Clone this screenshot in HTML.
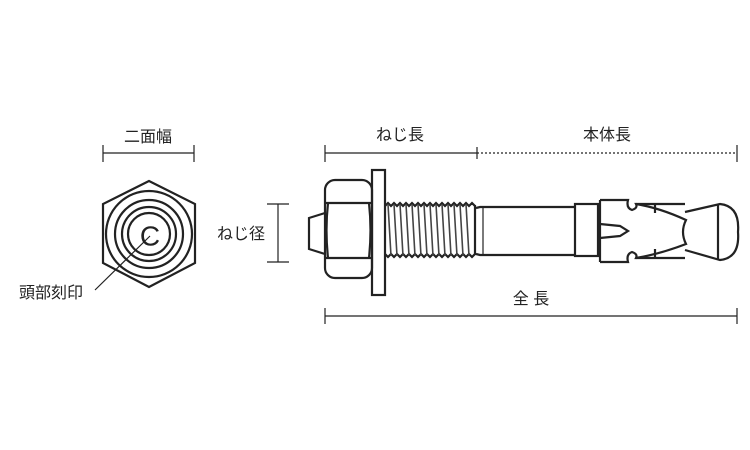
<!DOCTYPE html>
<html><head><meta charset="utf-8"><style>
html,body{margin:0;padding:0;background:#fff;}
svg{display:block}
text{font-family:"Liberation Sans","Noto Sans CJK JP",sans-serif;font-size:16px;fill:#222}
</style></head><body>
<svg width="750" height="450" viewBox="0 0 750 450" xmlns="http://www.w3.org/2000/svg">
<g stroke="#222" fill="none" stroke-width="1.2">
<line x1="103" y1="153" x2="194" y2="153"/>
<line x1="103" y1="145" x2="103" y2="162"/>
<line x1="194" y1="145" x2="194" y2="162"/>
<line x1="325" y1="153" x2="477" y2="153"/>
<line x1="477" y1="153" x2="737" y2="153" stroke-dasharray="2,2"/>
<line x1="325" y1="145" x2="325" y2="162"/>
<line x1="477" y1="147" x2="477" y2="159"/>
<line x1="737" y1="145" x2="737" y2="162"/>
<line x1="278" y1="204" x2="278" y2="262"/>
<line x1="267" y1="204" x2="289" y2="204"/>
<line x1="267" y1="262" x2="289" y2="262"/>
<line x1="325" y1="316" x2="737" y2="316"/>
<line x1="325" y1="308" x2="325" y2="324"/>
<line x1="737" y1="308" x2="737" y2="324"/>
<line x1="150" y1="236" x2="95" y2="290"/>
</g>
<g stroke="#222" fill="none" stroke-width="2.2">
<polygon points="149,181 195,204 195,263 149,287 103,263 103,204"/>
<circle cx="149" cy="234" r="43"/>
<circle cx="149" cy="234" r="34"/>
<circle cx="149" cy="234" r="27"/>
<circle cx="149" cy="234" r="21"/>
<path d="M325,213 L309,218 L309,249 L325,254"/>
<rect x="325" y="180" width="47" height="98" rx="10"/>
<line x1="325" y1="203" x2="372" y2="203"/>
<line x1="325" y1="258" x2="372" y2="258"/>
<path d="M328,203 Q325,230 328,258 M369,203 Q372,230 369,258"/>
<rect x="372" y="170" width="13" height="125"/>
<path d="M385,206 l3,-3 l3,3 l3,-3 l3,3 l3,-3 l3,3 l3,-3 l3,3 l3,-3 l3,3 l3,-3 l3,3 l3,-3 l3,3 l3,-3 l3,3 l3,-3 l3,3 l3,-3 l3,3 l3,-3 l3,3 l3,-3 l3,3 l3,-3 l3,3 l3,-3 l3,3 l3,-3 l3,3"/>
<path d="M385,254 l3,3 l3,-3 l3,3 l3,-3 l3,3 l3,-3 l3,3 l3,-3 l3,3 l3,-3 l3,3 l3,-3 l3,3 l3,-3 l3,3 l3,-3 l3,3 l3,-3 l3,3 l3,-3 l3,3 l3,-3 l3,3 l3,-3 l3,3 l3,-3 l3,3 l3,-3 l3,3 l3,-3"/>
<line x1="475" y1="205" x2="475" y2="255"/>
<path d="M476,208 L480,207 L575,207 M476,254 L480,255 L575,255"/>
<line x1="483" y1="207" x2="483" y2="255" stroke-width="1.2"/>
<rect x="575" y="204" width="23" height="52"/>
<path d="M600,200 L628,200 Q626,208 632,210 Q638,208 636,204 L685,204 M600,262 L628,262 Q626,254 632,252 Q638,254 636,258 L685,258"/>
<line x1="600" y1="200" x2="600" y2="262"/>
<path d="M636,204 Q660,208 686,220 Q680,232 686,244 Q660,254 636,258"/>
<path d="M600,224 L620,226 L628,231 L620,236 L600,238"/>
<line x1="655" y1="204" x2="655" y2="213"/>
<line x1="655" y1="249" x2="655" y2="258"/>
<path d="M685,212 L720,204 Q740,206 738,232 Q740,258 720,260 L685,250"/>
<line x1="718" y1="204" x2="718" y2="260"/>
</g>
<g stroke="#444" stroke-width="1.6">
<path d="M388,204 L391,256 M394,204 L397,256 M400,204 L403,256 M406,204 L409,256 M412,204 L415,256 M418,204 L421,256 M424,204 L427,256 M430,204 L433,256 M436,204 L439,256 M442,204 L445,256 M448,204 L451,256 M454,204 L457,256 M460,204 L463,256 M466,204 L469,256"/>
</g>
<text x="150" y="236" text-anchor="middle" dominant-baseline="central" style="font-size:28px">C</text>
<text x="148" y="142" text-anchor="middle">二面幅</text>
<text x="400" y="140" text-anchor="middle">ねじ長</text>
<text x="607" y="140" text-anchor="middle">本体長</text>
<text x="241" y="239" text-anchor="middle">ねじ径</text>
<text x="531" y="304" text-anchor="middle">全 長</text>
<text x="51" y="298" text-anchor="middle">頭部刻印</text>
</svg>
</body></html>
